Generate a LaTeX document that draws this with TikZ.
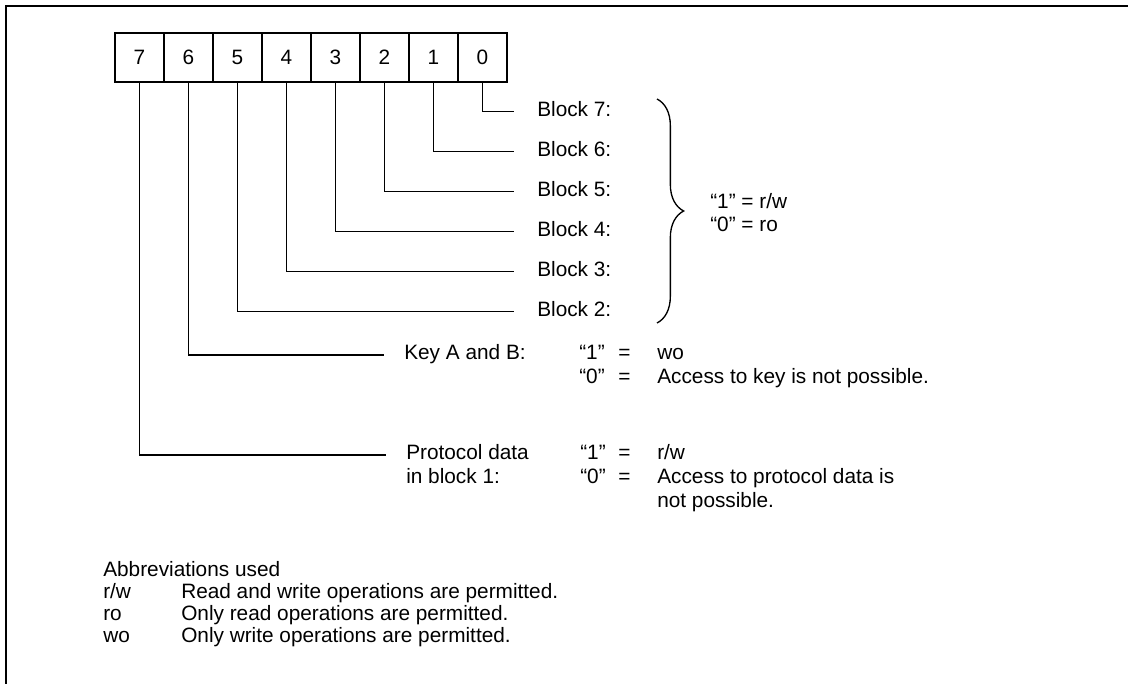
\documentclass[tikz,border=0pt]{standalone}
\usepackage{fontspec}
\setmainfont{Liberation Sans}
\usetikzlibrary{decorations.pathreplacing}
\begin{document}
\begin{tikzpicture}[x=0.75pt,y=-0.75pt,
  every node/.style={font=\fontsize{15.6pt}{18pt}\selectfont},
  cell/.style={draw,line width=1.3pt,minimum width=36.75pt,minimum height=36.75pt,inner sep=0pt},
  lbl/.style={inner sep=0pt,anchor=west,text height=0.716em,text depth=0pt},
  conn/.style={line width=1.1pt},
  blockconn/.style={conn,shorten >=17.25pt},
  keyconn/.style={conn,shorten >=15pt},
  frame/.style={line width=1.5pt}]
\useasboundingbox (0,0) rectangle (1128,684);
\draw[frame] (1128,6) -- (6,6) -- (6,684);
% register cells
\foreach \i in {0,...,7}{
  \node[cell] (c\i) at ({482.5-49*\i},57.5) {\i};
}
% block labels
\node[lbl] (b7) at (537,111.5) {Block 7:};
\node[lbl] (b6) at (537,151.5) {Block 6:};
\node[lbl] (b5) at (537,191.5) {Block 5:};
\node[lbl] (b4) at (537,231.5) {Block 4:};
\node[lbl] (b3) at (537,271.5) {Block 3:};
\node[lbl] (b2) at (537,311.5) {Block 2:};
\draw[blockconn] (c0.south) |- (b7.west);
\draw[blockconn] (c1.south) |- (b6.west);
\draw[blockconn] (c2.south) |- (b5.west);
\draw[blockconn] (c3.south) |- (b4.west);
\draw[blockconn] (c4.south) |- (b3.west);
\draw[blockconn] (c5.south) |- (b2.west);
% brace
\draw[line width=1pt,decorate,decoration={brace,amplitude=20pt}] (657,99) -- (657,323);
\node[lbl] (br1) at (710,203.5) {“1” = r/w};
\node[lbl] (br0) at (710,226.5) {“0” = ro};
% key A and B
\node[lbl] (kab) at (404,355) {Key A and B:};
\node[lbl] (kq1) at (579,355) {“1”};
\node[lbl] (ke1) at (618,355) {=};
\node[lbl] (kv1) at (657,355) {wo};
\node[lbl] (kq0) at (579,379) {“0”};
\node[lbl] (ke0) at (618,379) {=};
\node[lbl] (kv0) at (657,379) {Access to key is not possible.};
\draw[keyconn] (c6.south) |- (kab.west);
% protocol data
\node[lbl] (pd) at (406,455) {Protocol data};
\node[lbl] (pb) at (406,479) {in block 1:};
\node[lbl] (pq1) at (580,455) {“1”};
\node[lbl] (pe1) at (618,455) {=};
\node[lbl] (pv1) at (657,455) {r/w};
\node[lbl] (pq0) at (580,479) {“0”};
\node[lbl] (pe0) at (618,479) {=};
\node[lbl] (pv0) at (657,479) {Access to protocol data is};
\node[lbl] (pv0b) at (657,503) {not possible.};
\draw[keyconn] (c7.south) |- (pd.west);
% abbreviations
\node[lbl] (ab) at (103,572) {Abbreviations used};
\node[lbl] (a1) at (103,594) {r/w};
\node[lbl] (a1d) at (181,594) {Read and write operations are permitted.};
\node[lbl] (a2) at (103,616) {ro};
\node[lbl] (a2d) at (181,616) {Only read operations are permitted.};
\node[lbl] (a3) at (103,638) {wo};
\node[lbl] (a3d) at (181,638) {Only write operations are permitted.};
\end{tikzpicture}
\end{document}
